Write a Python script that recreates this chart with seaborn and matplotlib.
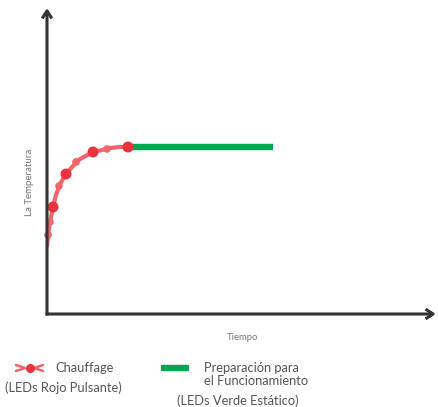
import numpy as np
import pandas as pd
import matplotlib
matplotlib.use("Agg")
import matplotlib.pyplot as plt
import seaborn as sns
from matplotlib.lines import Line2D

sns.set_style("white")
plt.rcParams['font.family'] = ['Lato', 'DejaVu Sans']

# curva de calentamiento (unidades relativas)
heat_t = [0, 1, 3, 6, 9, 13, 19, 26, 33, 46, 55, 63, 73, 81]
heat_temp = [68, 79, 92, 107, 119, 130, 140, 148, 155, 162, 164, 166, 167, 167]
# puntos marcados
dot_t = [6, 19, 46, 81]
dot_temp = [107, 140, 162, 167]
# pulsos intermedios
pulse_t = [1, 3, 12, 29, 60]
pulse_temp = [79, 92, 128, 152, 165]

# tramo estable (verde)
ready_t = [81, 226]
ready_temp = [167, 167]

RED = "#e8323c"
LRED = "#f0646b"
GREEN = "#00a651"
AX = "#333333"
TXT = "#555555"

W, H = 438, 407
fig = plt.figure(figsize=(W / 100, H / 100), dpi=100)
ax = fig.add_axes([47 / W, (H - 314) / H, (436 - 47) / W, (314 - 8) / H])

df_heat = pd.DataFrame({"t": heat_t, "temp": heat_temp})
df_ready = pd.DataFrame({"t": ready_t, "temp": ready_temp})

sns.lineplot(data=df_ready, x="t", y="temp", color=GREEN, lw=4.6, ax=ax,
             solid_capstyle="butt", zorder=2)
sns.lineplot(data=df_heat, x="t", y="temp", color=LRED, lw=3.0, ax=ax,
             sort=False, zorder=3)
ax.scatter(pulse_t, pulse_temp, s=30, color=LRED, edgecolor="none", zorder=3,
           clip_on=False)
sns.scatterplot(x=dot_t, y=dot_temp, s=62, color=RED, edgecolor="none", ax=ax,
                zorder=4)

ax.set_xlim(0, 389)
ax.set_ylim(0, 306)
ax.set_xticks([])
ax.set_yticks([])
for s in ax.spines.values():
    s.set_visible(False)
ax.set_xlabel("")
ax.set_ylabel("")

# ejes con flechas
arrow = dict(arrowstyle="->,head_length=0.55,head_width=0.35", color=AX,
             lw=2.2, shrinkA=0, shrinkB=0, capstyle="butt")
ax.annotate("", xy=(0, 306), xytext=(0, -1.5), arrowprops=arrow,
            annotation_clip=False, zorder=5)
ax.annotate("", xy=(389, 0), xytext=(-1.5, 0), arrowprops=arrow,
            annotation_clip=False, zorder=5)

fig.text(30 / W, 1 - 182 / H, "La Temperatura", rotation=90, ha="center",
         va="center", fontsize=7, color="#777777")
fig.text(243 / W, 1 - 337 / H, "Tiempo", ha="center", va="center",
         fontsize=6.8, color="#777777")

# leyenda manual
def fx(px):
    return px / W

def fy(py):
    return 1 - py / H

for x0, x1 in [(16, 25), (43, 34)]:
    fig.add_artist(Line2D([fx(x0), fx(x1), fx(x0)], [fy(365), fy(368), fy(371)],
                          color=LRED, lw=1.8))
fig.add_artist(Line2D([fx(29.5)], [fy(368)], marker="o", ms=6.5, color=RED,
                      mec="none"))
fs = 9.3
fig.text(fx(55), fy(368), "Chauffage", ha="left", va="center", fontsize=fs,
         color=TXT)
fig.text(fx(63), fy(388), "(LEDs Rojo Pulsante)", ha="center", va="center",
         fontsize=fs, color=TXT)

fig.add_artist(Line2D([fx(161), fx(189)], [fy(368), fy(368)], color=GREEN,
                      lw=4.6, solid_capstyle="butt"))
fig.text(fx(204), fy(368), "Preparación para", ha="left", va="center",
         fontsize=fs, color=TXT)
fig.text(fx(204), fy(381), "el Funcionamiento", ha="left", va="center",
         fontsize=fs, color=TXT)
fig.text(fx(238), fy(401), "(LEDs Verde Estático)", ha="center", va="center",
         fontsize=fs, color=TXT)

fig.savefig("out.png", dpi=100)
